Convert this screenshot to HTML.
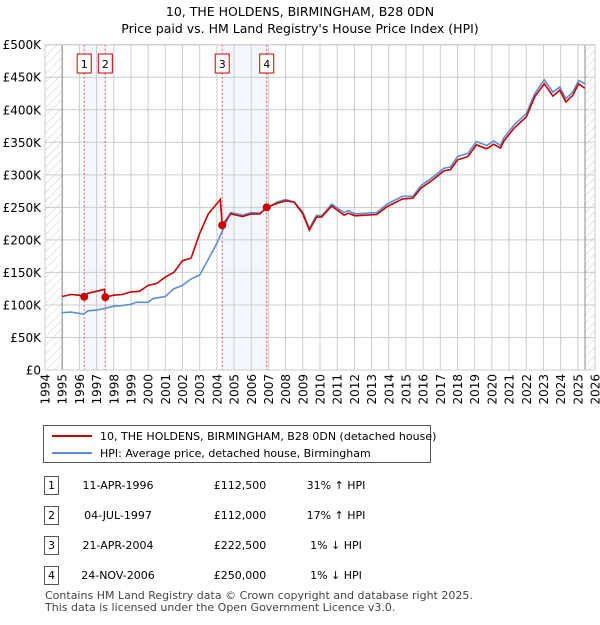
<!DOCTYPE html>
<html><head><meta charset="utf-8"><style>
body{margin:0;background:#fff;font-family:"Liberation Sans","DejaVu Sans",sans-serif;}
svg text{font-family:"DejaVu Sans","Liberation Sans",sans-serif;}
</style></head><body>
<svg id="c" width="600" height="620" xmlns="http://www.w3.org/2000/svg">
<defs><pattern id="h" width="6" height="6" patternUnits="userSpaceOnUse" patternTransform="rotate(45)"><line x1="0" y1="0" x2="0" y2="6" stroke="#ccc" stroke-width="1"/></pattern></defs>
<text x="300" y="16" text-anchor="middle" font-size="12.5">10, THE HOLDENS, BIRMINGHAM, B28 0DN</text>
<text x="300" y="33" text-anchor="middle" font-size="12.5">Price paid vs. HM Land Registry's House Price Index (HPI)</text>
<g id="plot"></g>
<g>
<rect x="43.5" y="425.5" width="387" height="37" fill="#fff" stroke="#555"/>
<line x1="52" y1="436" x2="92" y2="436" stroke="#cc0000" stroke-width="2"/>
<text x="100" y="440" font-size="11">10, THE HOLDENS, BIRMINGHAM, B28 0DN (detached house)</text>
<line x1="52" y1="453" x2="92" y2="453" stroke="#5b8fd6" stroke-width="2"/>
<text x="100" y="457" font-size="11">HPI: Average price, detached house, Birmingham</text>
</g>
<g id="tbl" font-size="11"></g>
<text x="45" y="599" font-size="11" fill="#444">Contains HM Land Registry data © Crown copyright and database right 2025.</text>
<text x="45" y="611" font-size="11" fill="#444">This data is licensed under the Open Government Licence v3.0.</text>
</svg>
<script>
const hpiYears=[1995.0,1995.5,1996.0,1996.25,1996.5,1997.0,1997.5,1998.0,1998.5,1999.0,1999.3,2000.0,2000.3,2001.0,2001.5,2002.0,2002.5,2003.0,2003.5,2004.0,2004.8,2005.5,2006.0,2006.5,2007.0,2007.5,2008.0,2008.5,2009.0,2009.38,2009.8,2010.1,2010.68,2011.4,2011.65,2012.05,2013.3,2013.9,2014.8,2015.4,2015.9,2016.6,2017.2,2017.6,2018.0,2018.6,2019.1,2019.7,2020.1,2020.5,2020.7,2021.3,2022.0,2022.5,2023.05,2023.55,2023.95,2024.3,2024.7,2025.05,2025.4];
const hpiValues=[88,89,87,86,91,92,95,98,99,101,104,104,110,113,125,130,140,146,170,195,242,238,242,241,250,258,262,258,243,218,238,237,255,242,245,240,242,255,267,267,284,297,310,312,328,333,351,345,352,345,357,377,394,425,446,427,435,417,427,445,440];
const priceYears=[1995.0,1995.5,1996.0,1996.28,1996.5,1997.0,1997.45,1997.51,1998.0,1998.5,1999.0,1999.5,2000.0,2000.5,2001.0,2001.5,2002.0,2002.5,2003.0,2003.5,2004.2,2004.31,2004.8,2005.5,2006.0,2006.5,2006.9,2007.5,2008.0,2008.5,2009.0,2009.38,2009.8,2010.1,2010.68,2011.4,2011.65,2012.05,2013.3,2013.9,2014.8,2015.4,2015.9,2016.6,2017.2,2017.6,2018.0,2018.6,2019.1,2019.7,2020.1,2020.5,2020.7,2021.3,2022.0,2022.5,2023.05,2023.55,2023.95,2024.3,2024.7,2025.05,2025.4];
const priceValues=[113,116,115,112.5,118,121,124,112,115,116,120,121,130,133,143,150,168,172,210,240,262,222.5,240,236,240,240,250,256,260,258,240,215,235,235,252,238,241,237,239,251,263,264,280,293,306,308,323,328,346,340,347,341,352,372,389,420,440,421,430,412,422,440,433];
const saleYears=[1996.28,1997.51,2004.31,2006.9];
const saleValues=[112.5,112,222.5,250];
const saleLabels=["1","2","3","4"];
const saleDates=["11-APR-1996","04-JUL-1997","21-APR-2004","24-NOV-2006"];
const salePrices=["£112,500","£112,000","£222,500","£250,000"];
const saleHpi=["31% ↑ HPI","17% ↑ HPI","1% ↓ HPI","1% ↓ HPI"];
const yTicks=[0,50,100,150,200,250,300,350,400,450,500];
const yTickLabels=["£0","£50K","£100K","£150K","£200K","£250K","£300K","£350K","£400K","£450K","£500K"];
const xMin=1994,xMax=2026,L=45,R=595,T=44.7,B=370;
const X=v=>L+(v-xMin)/(xMax-xMin)*(R-L);
const Y=v=>B-v/500*(B-T);
const NS="http://www.w3.org/2000/svg";
const g=document.getElementById('plot');
function mk(tag,a,p){const e=document.createElementNS(NS,tag);for(const k in a)e.setAttribute(k,a[k]);(p||g).appendChild(e);return e;}
let s1=mk('rect',{x:X(saleYears[0]),y:T,width:X(saleYears[1])-X(saleYears[0]),height:B-T,fill:'#f3f6fd'});

let s2=mk('rect',{x:X(saleYears[2]),y:T,width:X(saleYears[3])-X(saleYears[2]),height:B-T,fill:'#f3f6fd'});

let h1=mk('rect',{x:L,y:T,width:X(1995)-L,height:B-T,fill:'url(#h)'});

let h2=mk('rect',{x:X(2025.42),y:T,width:R-X(2025.42),height:B-T,fill:'url(#h)'});

for(let i=0;i<yTicks.length;i++){
 let l=mk('line',{x1:L,x2:R,y1:Y(yTicks[i]),y2:Y(yTicks[i]),stroke:'#ccc','stroke-width':1});
 
 let t=mk('text',{x:L-4,y:Y(yTicks[i])+4.5,'text-anchor':'end','font-size':12});
 t.textContent=yTickLabels[i];
}
for(let yr=xMin;yr<=xMax;yr++){
 let l=mk('line',{x1:X(yr),x2:X(yr),y1:T,y2:B,stroke:'#ccc','stroke-width':1});
 
 let t=mk('text',{x:0,y:0,'text-anchor':'end','font-size':12,transform:`translate(${X(yr)+4.5},${B+4}) rotate(-90)`});
 t.textContent=yr;
}
[1995,2025.42].forEach(v=>{let l=mk('line',{x1:X(v),x2:X(v),y1:T,y2:B,stroke:'#888'});});
for(let i=0;i<saleYears.length;i++){
 let l=mk('line',{x1:X(saleYears[i]),x2:X(saleYears[i]),y1:T,y2:B,stroke:'#e05050','stroke-dasharray':'2,2'});
 
 let r=mk('rect',{x:X(saleYears[i])-7,y:54,width:14,height:19,fill:'#fff',stroke:'#cc0000'});
 
 let t=mk('text',{x:X(saleYears[i]),y:68,'text-anchor':'middle','font-size':11});
 t.textContent=saleLabels[i];
}
mk('rect',{x:L,y:T,width:R-L,height:B-T,fill:'none',stroke:'#ccc'});
function path(xs,ys){return xs.map((x,i)=>(i?'L':'M')+X(x).toFixed(1)+','+Y(ys[i]).toFixed(1)).join('');}
let hp=mk('path',{d:path(hpiYears,hpiValues),fill:'none',stroke:'#5b8fd6','stroke-width':1.6});

let pp=mk('path',{d:path(priceYears,priceValues),fill:'none',stroke:'#cc0000','stroke-width':1.6});

for(let i=0;i<saleYears.length;i++){
 let c=mk('circle',{cx:X(saleYears[i]),cy:Y(saleValues[i]),r:4,fill:'#cc0000'});
 
}
const tb=document.getElementById('tbl');
for(let i=0;i<4;i++){
 const y=489+i*30;
 let r=mk('rect',{x:44.5,y:y-12.5,width:14,height:18,fill:'#fff',stroke:'#555'},tb);
 
 const cells=[[51.5,saleLabels[i],'middle'],[118,saleDates[i],'middle'],[240,salePrices[i],'middle'],[336,saleHpi[i],'middle']];
 cells.forEach(c=>{let t=mk('text',{x:c[0],y:y,'text-anchor':c[2]},tb);t.textContent=c[1];});
}
</script>
</body></html>
